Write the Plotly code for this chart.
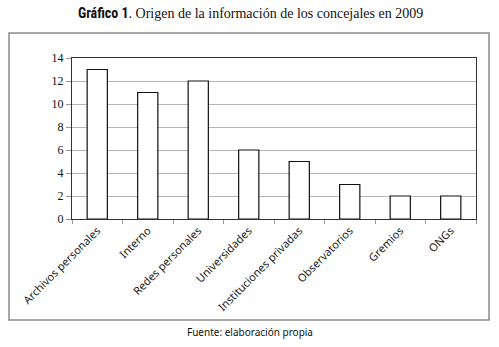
import plotly.graph_objects as go

categories = ["Archivos personales", "Interno", "Redes personales", "Universidades",
              "Instituciones privadas", "Observatorios", "Gremios", "ONGs"]
values = [13, 11, 12, 6, 5, 3, 2, 2]
y_ticks = [0, 2, 4, 6, 8, 10, 12, 14]

L, R, T, B = 72, 23, 58, 128
W, H = 499, 347
pw, ph = W - L - R, H - T - B

def px(x):
    return (x - L) / pw

def py(y):
    return (H - B - y) / ph

fig = go.Figure()
fig.add_trace(go.Bar(
    x=categories, y=values, width=0.4,
    marker=dict(color="white", line=dict(color="#111111", width=1.2)),
))

fig.update_layout(
    width=W, height=H,
    margin=dict(l=L, r=R, t=T, b=B),
    paper_bgcolor="white", plot_bgcolor="white",
    showlegend=False,
    font=dict(family="Liberation Serif", color="#111111", size=12),
    xaxis=dict(
        tickangle=-45, tickfont=dict(family="Noto Sans", size=11, color="#222"),
        showline=True, linecolor="#333", linewidth=1, mirror=True,
        ticks="outside", ticklen=4, tickcolor="#999",
        tickson="boundaries", showgrid=False,
    ),
    yaxis=dict(
        range=[0, 14], tickvals=y_ticks,
        tickfont=dict(family="Liberation Serif", size=12, color="#111"),
        showline=True, linecolor="#333", linewidth=1, mirror=True,
        ticks="outside", ticklen=5, tickcolor="#999",
        showgrid=True, gridcolor="#b5b5b5", gridwidth=1,
        zeroline=False,
    ),
    shapes=[dict(type="rect", xref="paper", yref="paper",
                 x0=px(9), x1=px(489), y0=py(320), y1=py(33),
                 line=dict(color="#8a8a8a", width=1.5), layer="below")],
    annotations=[
        dict(xref="paper", yref="paper", x=px(250), y=py(13), xanchor="center", yanchor="middle",
             showarrow=False,
             text="<span style='font-family:Roboto Condensed, Liberation Sans Narrow, Roboto'><b>Gráfico 1</b></span>. Origen de la información de los concejales en 2009",
             font=dict(family="Liberation Serif", size=14, color="#111")),
        dict(xref="paper", yref="paper", x=px(250), y=py(332), xanchor="center", yanchor="middle",
             showarrow=False, text="Fuente: elaboración propia",
             font=dict(family="Noto Sans", size=10, color="#111")),
    ],
)

fig.write_html("out.html")
